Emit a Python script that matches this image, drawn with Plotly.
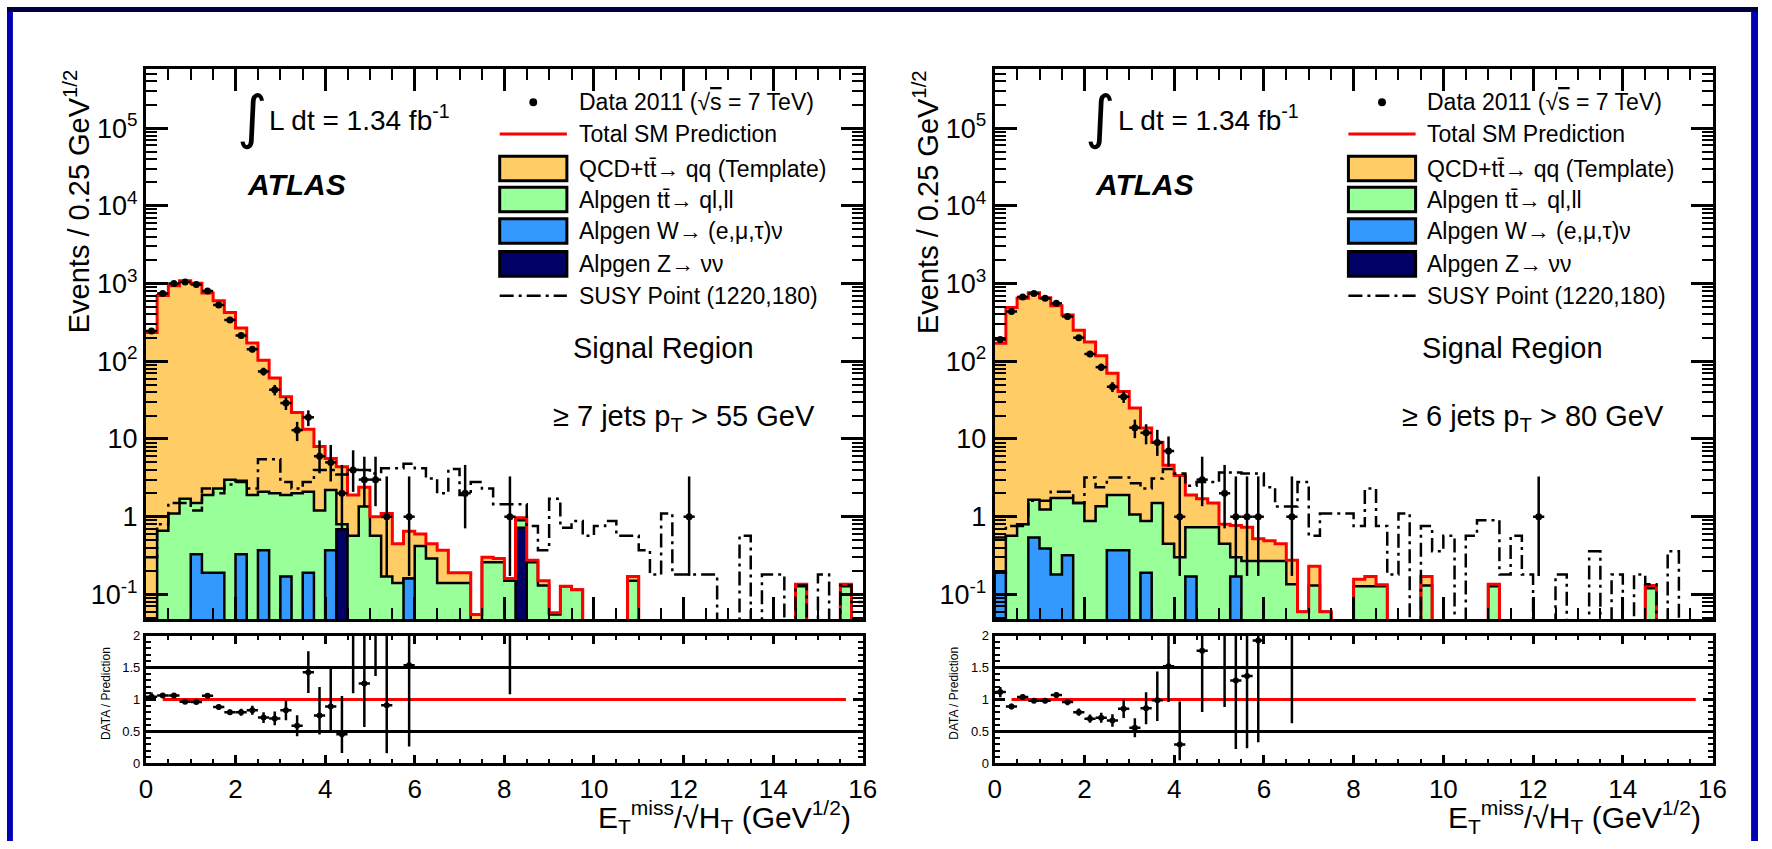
import plotly.graph_objects as go

W, H = 1772, 849
FONT = "Liberation Sans, Arial, Helvetica, sans-serif"

# ---------------- data ----------------
x_edges = [0.25 * i for i in range(65)]
x_centers = [0.125 + 0.25 * i for i in range(64)]

ytick_vals = [0.1, 1, 10, 100, 1e3, 1e4, 1e5]
ytick_text = ["10<sup>-1</sup>", "1", "10", "10<sup>2</sup>", "10<sup>3</sup>", "10<sup>4</sup>", "10<sup>5</sup>"]
rtick_vals = [0, 0.5, 1, 1.5, 2]
rtick_text = ["0", "0.5", "1", "1.5", "2"]
xtick_vals = [0, 2, 4, 6, 8, 10, 12, 14, 16]

# Left panel: >= 7 jets pT > 55 GeV
qcd_L = [235, 699, 939, 1088, 1008, 753, 598, 422, 266, 170, 101, 59, 33, 20, 11.2, 6.8,
         3.4, 3.6, 1.33, 1.05, 0.43, 0.93, 0.31, 0.49, 0.18, 0.16, 0.23, 0.05, 0.05, 0.055, 0.04, 0.03,
         0.01, 0.07, 0.015, 0.02, 0.003, 0, 0, 0, 0, 0, 0, 0.02, 0, 0, 0, 0,
         0, 0, 0, 0, 0, 0, 0, 0, 0, 0, 0.008, 0, 0, 0, 0.008, 0]
tt_L = [0, 0.66, 1.1, 1.7, 1.17, 1.71, 2.11, 3.0, 2.57, 1.9, 1.73, 2.0, 1.73, 2.0, 1.91, 1.2,
        1.83, 0.11, 0.57, 1.35, 0.57, 0.17, 0.14, 0, 0.42, 0.29, 0.14, 0.14, 0.14, 0, 0.26, 0.26,
        0.15, 0.18, 0.26, 0.13, 0.055, 0.127, 0.115, 0, 0, 0, 0, 0.15, 0, 0, 0, 0,
        0, 0, 0, 0, 0, 0, 0, 0, 0, 0, 0.127, 0, 0, 0, 0.127, 0]
w_L = [0, 0, 0, 0, 0.33, 0.19, 0.19, 0, 0.33, 0, 0.37, 0, 0.17, 0, 0.19, 0,
       0.37, 0, 0, 0, 0, 0, 0, 0.16, 0, 0, 0, 0, 0, 0, 0, 0,
       0, 0, 0, 0, 0, 0, 0, 0, 0, 0, 0, 0, 0, 0, 0, 0,
       0, 0, 0, 0, 0, 0, 0, 0, 0, 0, 0, 0, 0, 0, 0, 0]
z_L = [0, 0, 0, 0, 0, 0, 0, 0, 0, 0, 0, 0, 0, 0, 0, 0,
       0, 0.69, 0, 0, 0, 0, 0, 0, 0, 0, 0, 0, 0, 0, 0, 0,
       0, 0.72, 0, 0, 0, 0, 0, 0, 0, 0, 0, 0, 0, 0, 0, 0,
       0, 0, 0, 0, 0, 0, 0, 0, 0, 0, 0, 0, 0, 0, 0, 0]
susy_L = [0.3, 0.8, 1.5, 1.5, 1.2, 2.3, 2.0, 2.6, 2.8, 2.3, 5.5, 5.5, 2.8, 2.3, 2.8, 4.0,
          4.0, 3.5, 3.8, 4.0, 3.6, 4.2, 4.2, 4.8, 4.2, 3.1, 2.0, 4.1, 1.9, 2.8, 2.3, 1.45,
          1.45, 1.45, 0.76, 0.37, 1.7, 0.72, 0.88, 0.57, 0.76, 0.88, 0.57, 0.57, 0.37, 0.18, 1.1, 0.18,
          0.18, 0.18, 0.18, 0, 0, 0.57, 0, 0.18, 0.18, 0, 0.13, 0, 0.18, 0, 0.13, 0.08]
data_L = [245, 745, 1000, 1050, 970, 800, 530, 340, 215, 143, 74, 43, 29, 13, 19, 6,
          5, 2, 4, 3, 3, 1, 0, 1, 0, 0, 0, 0, 2, 0, 0, 0,
          1, 0, 0, 0, 0, 0, 0, 0, 0, 0, 0, 0, 0, 0, 0, 0,
          1, 0, 0, 0, 0, 0, 0, 0, 0, 0, 0, 0, 0, 0, 0, 0]

# Right panel: >= 6 jets pT > 80 GeV
qcd_R = [170, 490, 646, 758, 657, 518, 391, 249, 176, 116, 68, 39, 24, 13, 7.6, 4.15,
         3.1, 1.17, 0.97, 0.77, 0.35, 0.47, 0.46, 0.25, 0.22, 0.18, 0.14, 0, 0.1, 0, 0, 0,
         0.03, 0.043, 0.006, 0, 0, 0, 0.04, 0, 0, 0, 0, 0, 0.008, 0, 0, 0,
         0, 0, 0, 0, 0, 0, 0, 0, 0, 0, 0.01, 0, 0, 0, 0, 0]
tt_R = [0, 0.57, 0.8, 1.11, 0.85, 1.56, 1.42, 1.5, 0.88, 1.36, 1.53, 1.53, 1.07, 0.69, 1.5, 0.45,
        0.3, 0.56, 0.73, 0.73, 0.45, 0.13, 0.27, 0.27, 0.27, 0.27, 0.135, 0.06, 0.13, 0.06, 0, 0,
        0.127, 0.127, 0.127, 0, 0, 0, 0.13, 0, 0, 0, 0, 0, 0.127, 0, 0, 0,
        0, 0, 0, 0, 0, 0, 0, 0, 0, 0, 0.12, 0, 0, 0, 0, 0]
w_R = [0.19, 0, 0, 0.54, 0.39, 0.18, 0.32, 0, 0, 0, 0.37, 0.37, 0, 0.19, 0, 0,
       0, 0.17, 0, 0, 0, 0.17, 0, 0, 0, 0, 0, 0, 0, 0, 0, 0,
       0, 0, 0, 0, 0, 0, 0, 0, 0, 0, 0, 0, 0, 0, 0, 0,
       0, 0, 0, 0, 0, 0, 0, 0, 0, 0, 0, 0, 0, 0, 0, 0]
z_R = [0] * 64
susy_R = [0.54, 0.76, 0.76, 1.6, 1.6, 2.1, 2.1, 1.5, 3.2, 2.4, 3.2, 3.2, 2.7, 2.3, 3.1, 4.1,
          3.6, 2.5, 2.8, 2.8, 3.7, 3.7, 3.6, 3.6, 2.4, 1.35, 1.35, 2.8, 0.57, 1.1, 1.1, 1.1,
          0.76, 2.3, 0.76, 0.18, 1.1, 0, 0.76, 0.36, 0.57, 0, 0.57, 0.9, 0.9, 0.18, 0.57, 0.18,
          0, 0, 0.18, 0, 0, 0.36, 0, 0.18, 0, 0.18, 0.135, 0, 0.36, 0, 0, 0]
data_R = [190, 437, 673, 745, 645, 556, 377, 201, 124, 84, 47, 35, 14, 12, 9, 7,
          1, 0, 3, 0, 2, 1, 1, 1, 0, 0, 1, 0, 0, 0, 0, 0,
          0, 0, 0, 0, 0, 0, 0, 0, 0, 0, 0, 0, 0, 0, 0, 0,
          1, 0, 0, 0, 0, 0, 0, 0, 0, 0, 0, 0, 0, 0, 0, 0]

# Poisson (Garwood 68%) intervals for small counts
poisson_low = {1: 0.173, 2: 0.708, 3: 1.367, 4: 2.086, 5: 2.840, 6: 3.620, 7: 4.419, 8: 5.232, 9: 6.057, 10: 6.891}
poisson_up = {1: 3.300, 2: 4.638, 3: 5.918, 4: 7.163, 5: 8.382, 6: 9.584, 7: 10.77, 8: 11.95, 9: 13.11, 10: 14.27}

legend_labels = [
    "Data 2011 (\u221a<span style='text-decoration:overline'>s</span> = 7 TeV)",
    "Total SM Prediction",
    "QCD+tt\u0304\u2192 qq (Template)",
    "Alpgen tt\u0304\u2192 ql,ll",
    "Alpgen W\u2192 (e,\u03bc,\u03c4)\u03bd",
    "Alpgen Z\u2192 \u03bd\u03bd",
    "SUSY Point (1220,180)",
]
region_texts = ["\u2265 7 jets p<sub>T</sub> &gt; 55 GeV", "\u2265 6 jets p<sub>T</sub> &gt; 80 GeV"]

# ---------------- style ----------------
ORANGE = "#FFCC66"
GREEN = "#99FF99"
BLUE = "#3399FF"
NAVY = "#000066"
RED = "#FF0000"
FLOOR = 1e-3
SUSY_DASH = "14px,5px,3px,5px"

fig = go.Figure()


def step_xy(vals):
    xs, ys = [], []
    for i, v in enumerate(vals):
        y = v if v > 0 else FLOOR
        xs += [x_edges[i], x_edges[i + 1]]
        ys += [y, y]
    return xs, ys


def area_xy(vals):
    xs, ys = step_xy(vals)
    return [x_edges[0]] + xs + [x_edges[-1]], [FLOOR] + ys + [FLOOR]


def poisson_err(n):
    if n in poisson_low:
        return n - poisson_low[n], poisson_up[n] - n
    return n ** 0.5, n ** 0.5


def add_panel(xm, ym, xr, yr, qcd, tt, w, z, susy, data):
    n = len(qcd)
    wz = [w[i] + z[i] for i in range(n)]
    zbar = [wz[i] if z[i] > 0 else 0 for i in range(n)]
    green = [wz[i] + tt[i] for i in range(n)]
    total = [green[i] + qcd[i] for i in range(n)]
    common = dict(xaxis=xm, yaxis=ym, hoverinfo="skip", showlegend=False, mode="lines")
    xs, ys = area_xy(total)
    fig.add_trace(go.Scatter(x=xs, y=ys, fill="toself", fillcolor=ORANGE, line=dict(width=0, color=ORANGE), **common))
    xs, ys = area_xy(green)
    fig.add_trace(go.Scatter(x=xs, y=ys, fill="toself", fillcolor=GREEN, line=dict(width=2.5, color="black"), **common))
    xs, ys = area_xy(w)
    fig.add_trace(go.Scatter(x=xs, y=ys, fill="toself", fillcolor=BLUE, line=dict(width=2.5, color="black"), **common))
    if any(v > 0 for v in zbar):
        xs, ys = area_xy(zbar)
        fig.add_trace(go.Scatter(x=xs, y=ys, fill="toself", fillcolor=NAVY, line=dict(width=2.5, color="black"), **common))
    xs, ys = step_xy(total)
    fig.add_trace(go.Scatter(x=xs, y=ys, line=dict(width=3, color=RED), **common))
    xs, ys = step_xy(susy)
    fig.add_trace(go.Scatter(x=xs, y=ys, line=dict(width=2.5, color="black", dash=SUSY_DASH), **common))

    dx, dy, dlo, dhi = [], [], [], []
    rx, ry, rlo, rhi = [], [], [], []
    for i in range(n):
        if data[i] <= 0:
            continue
        lo, hi = poisson_err(data[i])
        dx.append(x_centers[i]); dy.append(data[i]); dlo.append(lo); dhi.append(hi)
        if total[i] > 0:
            rx.append(x_centers[i]); ry.append(data[i] / total[i])
            rlo.append(lo / total[i]); rhi.append(hi / total[i])
    fig.add_trace(go.Scatter(
        x=dx, y=dy, mode="markers", xaxis=xm, yaxis=ym, showlegend=False, hoverinfo="skip",
        marker=dict(color="black", size=7),
        error_y=dict(type="data", symmetric=False, array=dhi, arrayminus=dlo, color="black", thickness=2.5, width=0),
        error_x=dict(type="constant", value=0.125, color="black", thickness=2.5, width=0)))
    fig.add_trace(go.Scatter(
        x=rx, y=ry, mode="markers", xaxis=xr, yaxis=yr, showlegend=False, hoverinfo="skip",
        marker=dict(color="black", size=6),
        error_y=dict(type="data", symmetric=False, array=rhi, arrayminus=rlo, color="black", thickness=2.5, width=0),
        error_x=dict(type="constant", value=0.125, color="black", thickness=2.5, width=0)))


add_panel("x", "y", "x2", "y2", qcd_L, tt_L, w_L, z_L, susy_L, data_L)
add_panel("x3", "y3", "x4", "y4", qcd_R, tt_R, w_R, z_R, susy_R, data_R)

# ---------------- layout ----------------
panels = [(140.6, 866.0), (999.5, 1726.0)]
MAIN_T, MAIN_B = 63.0, 623.0
RAT_T, RAT_B = 640.0, 770.0

minor_log = [m * 10 ** e for e in range(-2, 6) for m in range(2, 10)]


def axis(**kw):
    d = dict(showline=True, linecolor="black", linewidth=3, mirror="allticks", ticks="inside",
             tickcolor="black", tickwidth=2.5, showgrid=False, zeroline=False,
             tickfont=dict(family=FONT, size=26, color="black"))
    d.update(kw)
    return d


lay = {}
names = [("xaxis", "yaxis", "xaxis2", "yaxis2", "x", "y", "x2", "y2"),
         ("xaxis3", "yaxis3", "xaxis4", "yaxis4", "x3", "y3", "x4", "y4")]
for (x0, x1), (xm, ym, xr, yr, xmr, ymr, xrr, yrr) in zip(panels, names):
    dom = [x0 / W, x1 / W]
    lay[xm] = axis(domain=dom, anchor=ymr, range=[0, 16], tickvals=xtick_vals, ticklen=22,
                   showticklabels=False,
                   minor=dict(ticks="inside", dtick=0.5, tick0=0, ticklen=11, tickwidth=2, tickcolor="black"))
    lay[ym] = axis(domain=[1 - MAIN_B / H, 1 - MAIN_T / H], anchor=xmr, type="log",
                   range=[-1.316, 5.762], tickvals=ytick_vals, ticktext=ytick_text, ticklen=22,
                   tickfont=dict(family=FONT, size=27, color="black"),
                   minor=dict(ticks="inside", tickvals=minor_log, ticklen=11, tickwidth=2, tickcolor="black"))
    lay[xr] = axis(domain=dom, anchor=yrr, range=[0, 16], tickvals=xtick_vals, ticklen=8,
                   minor=dict(ticks="inside", dtick=0.5, tick0=0, ticklen=4, tickwidth=2, tickcolor="black"))
    lay[yr] = axis(domain=[1 - RAT_B / H, 1 - RAT_T / H], anchor=xrr, range=[0, 2],
                   tickvals=rtick_vals, ticktext=rtick_text, ticklen=10,
                   tickfont=dict(family=FONT, size=13, color="black"),
                   minor=dict(ticks="inside", dtick=0.1, tick0=0, ticklen=5, tickwidth=2, tickcolor="black"))


def px(x):
    return x / W


def py(y):
    return 1 - y / H


shapes = []
annotations = []

# frame border of the picture
shapes.append(dict(type="rect", xref="paper", yref="paper", x0=0, x1=px(6), y0=0, y1=1, fillcolor="#0000B4", line=dict(width=0)))
shapes.append(dict(type="rect", xref="paper", yref="paper", x0=px(W - 7), x1=1, y0=0, y1=1, fillcolor="#0000B4", line=dict(width=0)))
shapes.append(dict(type="rect", xref="paper", yref="paper", x0=0, x1=1, y0=py(5), y1=1, fillcolor="#000040", line=dict(width=0)))

box_colors = [None, None, ORANGE, GREEN, BLUE, NAVY, None]
row_y = [97, 129.3, 164.5, 196, 228, 261.5, 294]
for k, (x0, x1) in enumerate(panels):
    xr = "x%d" % (2 + 2 * k)
    yr = "y%d" % (2 + 2 * k)
    # ratio reference lines
    for yv in (0.5, 1.5):
        shapes.append(dict(type="line", xref=xr, yref=yr, x0=0, x1=16, y0=yv, y1=yv, layer="below",
                           line=dict(color="black", width=3)))
    shapes.append(dict(type="line", xref=xr, yref=yr, x0=0.375, x1=15.625, y0=1, y1=1, layer="below",
                       line=dict(color=RED, width=3)))
    # legend
    lx0, lx1, tx = x0 + 358, x0 + 426, x0 + 436
    shapes.append(dict(type="circle", xref="paper", yref="paper", x0=px(x0 + 388), x1=px(x0 + 396),
                       y0=py(row_y[0] + 4), y1=py(row_y[0] - 4), fillcolor="black", line=dict(width=0)))
    shapes.append(dict(type="line", xref="paper", yref="paper", x0=px(lx0), x1=px(lx1),
                       y0=py(row_y[1]), y1=py(row_y[1]), line=dict(color=RED, width=3)))
    for r in range(2, 6):
        shapes.append(dict(type="rect", xref="paper", yref="paper", x0=px(lx0), x1=px(lx1),
                           y0=py(row_y[r] + 12.5), y1=py(row_y[r] - 12.5), fillcolor=box_colors[r],
                           line=dict(color="black", width=3)))
    shapes.append(dict(type="line", xref="paper", yref="paper", x0=px(lx0), x1=px(lx1),
                       y0=py(row_y[6]), y1=py(row_y[6]), line=dict(color="black", width=2.5, dash=SUSY_DASH)))
    for r, lab in enumerate(legend_labels):
        annotations.append(dict(xref="paper", yref="paper", x=px(tx), y=py(row_y[r]), text=lab, showarrow=False,
                                xanchor="left", yanchor="middle", font=dict(family=FONT, size=23, color="black")))
    # texts
    annotations.append(dict(xref="paper", yref="paper", x=px(x0 + 107), y=py(112), text="\u222b", showarrow=False,
                            xanchor="center", yanchor="middle", font=dict(family="DejaVu Sans", size=58, color="black")))
    annotations.append(dict(xref="paper", yref="paper", x=px(x0 + 123), y=py(113), text="L dt = 1.34 fb<sup>-1</sup>",
                            showarrow=False, xanchor="left", yanchor="middle", font=dict(family=FONT, size=28, color="black")))
    annotations.append(dict(xref="paper", yref="paper", x=px(x0 + 100), y=py(181), text="<b><i>ATLAS</i></b>",
                            showarrow=False, xanchor="left", yanchor="middle", font=dict(family=FONT, size=30, color="black")))
    annotations.append(dict(xref="paper", yref="paper", x=px(x0 + 430), y=py(347), text="Signal Region",
                            showarrow=False, xanchor="left", yanchor="middle", font=dict(family=FONT, size=29, color="black")))
    annotations.append(dict(xref="paper", yref="paper", x=px(x0 + 410), y=py(418), text=region_texts[k],
                            showarrow=False, xanchor="left", yanchor="middle", font=dict(family=FONT, size=29, color="black")))
    # axis titles
    annotations.append(dict(xref="paper", yref="paper", x=px(x0 - 70), y=py(198),
                            text="Events / 0.25 GeV<sup>1/2</sup>", textangle=-90, showarrow=False,
                            xanchor="center", yanchor="middle", font=dict(family=FONT, size=29, color="black")))
    annotations.append(dict(xref="paper", yref="paper", x=px(x0 - 41), y=py(699),
                            text="DATA / Prediction", textangle=-90, showarrow=False,
                            xanchor="center", yanchor="middle", font=dict(family=FONT, size=12, color="black")))
    annotations.append(dict(xref="paper", yref="paper", x=px(x1 - 10), y=py(825),
                            text="E<sub>T</sub><sup>miss</sup>/\u221aH<sub>T</sub> (GeV<sup>1/2</sup>)",
                            showarrow=False, xanchor="right", yanchor="middle",
                            font=dict(family=FONT, size=30, color="black")))

fig.update_layout(
    width=W, height=H, margin=dict(l=0, r=0, t=0, b=0),
    paper_bgcolor="white", plot_bgcolor="white",
    showlegend=False, shapes=shapes, annotations=annotations,
    font=dict(family=FONT, color="black"),
    **lay,
)

fig.write_html("out.html", config={"displayModeBar": False},
               post_script="document.body.style.margin='0px';document.body.style.overflow='hidden';")
